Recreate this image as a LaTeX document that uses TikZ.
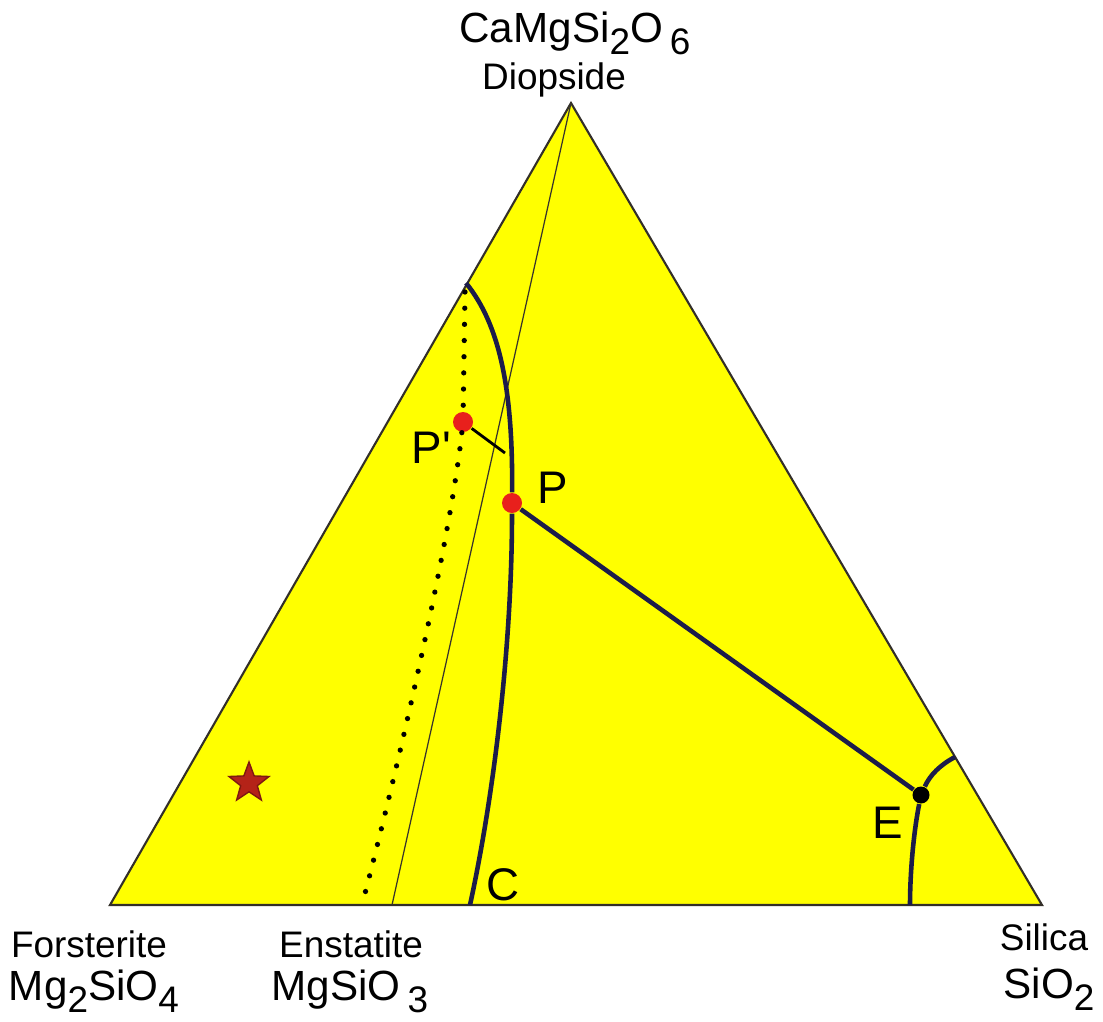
\documentclass[tikz,border=0pt]{standalone}
\usepackage{fontspec}
\setmainfont{Liberation Sans}
\usetikzlibrary{positioning,shapes.geometric}
\definecolor{fieldyellow}{HTML}{FFFF00}
\definecolor{cotnavy}{HTML}{1C1C4A}
\definecolor{dotred}{HTML}{E8201C}
\definecolor{starred}{HTML}{B42318}
\newcommand{\lowsub}[1]{\raisebox{-0.55ex}{\fontsize{10.5}{12}\selectfont #1}}

\begin{document}
\begin{tikzpicture}[
    x=0.01cm, y=-0.01cm,
    rim/.style={draw=black!85!olive, line width=0.6pt},
    thinline/.style={black!80!olive, line width=0.35pt},
    cotectic/.style={cotnavy, line width=1.3pt},
    tie/.style={black, line width=0.8pt},
    liqline/.style={black, line width=1.5pt, dash pattern=on 0pt off 4.6pt, line cap=round},
    ptdot/.style={circle, fill=dotred, inner sep=0pt, minimum size=0.2cm},
    lab/.style={font=\fontsize{13}{15}\selectfont, anchor=base west, inner sep=0pt},
    mineral/.style={font=\fontsize{10.5}{12}\selectfont, anchor=base, inner sep=0pt},
    formula/.style={font=\fontsize{12}{14}\selectfont, anchor=base, inner sep=0pt}
]
\useasboundingbox (0,0) rectangle (1103,1021);

% corners of the join
\coordinate (fo) at (110,905);
\coordinate (si) at (1042,905);
\coordinate (di) at (571,103);
\coordinate (en) at (392,905);
% ends of the boundaries
\coordinate (lim) at (466,283);
\coordinate (C) at (470,905);
\coordinate (Eside) at (955,757);
\coordinate (Ebase) at (910,905);
\coordinate (ptop) at (465,292);
\coordinate (pbase) at (362,905);
\coordinate (tieend) at (505,453);

\filldraw[rim, fill=fieldyellow] (fo) -- (si) -- (di) -- cycle;
\draw[thinline] (di) -- (en);

\node[ptdot] (Pp) at (463,422) {};
\node[ptdot] (P) at (512,503) {};
\node[circle, fill=black, inner sep=0pt, minimum size=0.17cm] (E) at (921,795) {};

\draw[cotectic] (lim) .. controls (500,325) and (513,390) .. (P);
\draw[cotectic] (P) .. controls (512,640) and (495,790) .. (C);
\draw[cotectic] (P) -- (E);
\draw[cotectic] (E) .. controls (930,775) and (940,765) .. (Eside);
\draw[cotectic] (E) .. controls (914,830) and (910,870) .. (Ebase);
\draw[tie] (Pp) -- (tieend);
\draw[liqline] (ptop) -- (Pp);
\draw[liqline] (Pp) .. controls (450,540) and (400,760) .. (pbase);

\node[star, star points=5, star point ratio=2.4, fill=starred,
      draw=starred!70!black, inner sep=0pt, minimum size=0.42cm] (xtal) at (249,783) {};

\node[lab] (lPp) at (411,463) {P\textquotesingle};
\node[lab] (lP) at (537,503) {P};
\node[lab] (lC) at (486,900) {C};
\node[lab] (lE) at (872,838) {E};

\node[formula] (dif) at (575,42) {CaMgSi\lowsub{2}O\,\lowsub{6}};
\node[mineral] (din) at (554,89) {Diopside};
\node[mineral] (fon) at (89,957) {Forsterite};
\node[formula] (fof) at (94,1000) {Mg\lowsub{2}SiO\lowsub{4}};
\node[mineral] (enn) at (351,957) {Enstatite};
\node[formula] (enf) at (350,1000) {MgSiO\,\lowsub{3}};
\node[mineral] (sin) at (1044,950) {Silica};
\node[formula] (sif) at (1049,998) {SiO\lowsub{2}};
\end{tikzpicture}
\end{document}
